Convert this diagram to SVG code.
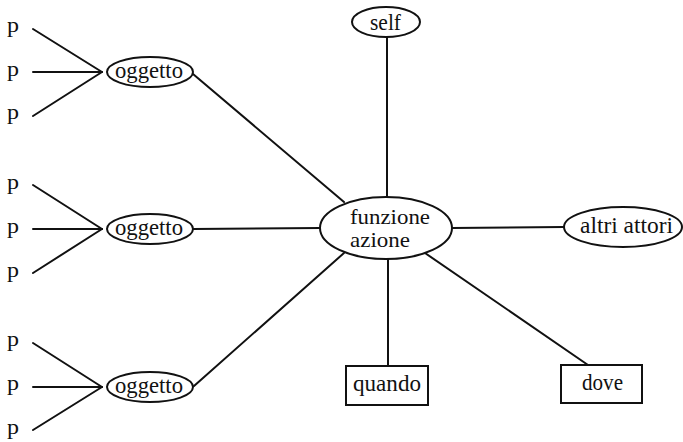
<svg xmlns="http://www.w3.org/2000/svg" width="683" height="442" viewBox="0 0 683 442" font-family="'Liberation Serif', 'DejaVu Serif', 'Times New Roman', serif">
<style>
text{font-family:'Liberation Serif','DejaVu Serif','Times New Roman',serif;fill:#111}
.lbl{font-size:23px}
.lbl2{font-size:21px}
.p{font-size:21px}
.shape{fill:#fff;stroke:#111;stroke-width:2}
.edges line{stroke:#111;stroke-width:2;stroke-linecap:round}
</style>
<rect width="683" height="442" fill="#fff"/>
<g class="edges" id="connectors">
<line x1="33" y1="29" x2="102" y2="72"/>
<line x1="33" y1="72" x2="102" y2="72"/>
<line x1="33" y1="116" x2="102" y2="72"/>
<line x1="33" y1="185" x2="102" y2="229"/>
<line x1="33" y1="229" x2="102" y2="229"/>
<line x1="33" y1="273" x2="102" y2="229"/>
<line x1="33" y1="343" x2="102" y2="387"/>
<line x1="33" y1="387" x2="102" y2="387"/>
<line x1="33" y1="430" x2="102" y2="387"/>
<line x1="193" y1="74" x2="344" y2="202"/>
<line x1="193" y1="229" x2="321" y2="228"/>
<line x1="194" y1="386" x2="344" y2="253"/>
<line x1="387" y1="37" x2="387" y2="197"/>
<line x1="452" y1="228" x2="564" y2="227"/>
<line x1="388" y1="259" x2="388" y2="366"/>
<line x1="425" y1="253" x2="588" y2="365"/>
</g>
<g id="p-labels" class="p" font-size="21">
<text x="7" y="32" textLength="12" lengthAdjust="spacingAndGlyphs">p</text>
<text x="7" y="76" textLength="12" lengthAdjust="spacingAndGlyphs">p</text>
<text x="7" y="119" textLength="12" lengthAdjust="spacingAndGlyphs">p</text>
<text x="7" y="189" textLength="12" lengthAdjust="spacingAndGlyphs">p</text>
<text x="7" y="233" textLength="12" lengthAdjust="spacingAndGlyphs">p</text>
<text x="7" y="277" textLength="12" lengthAdjust="spacingAndGlyphs">p</text>
<text x="7" y="346" textLength="12" lengthAdjust="spacingAndGlyphs">p</text>
<text x="7" y="390" textLength="12" lengthAdjust="spacingAndGlyphs">p</text>
<text x="7" y="434" textLength="12" lengthAdjust="spacingAndGlyphs">p</text>
</g>
<g id="oggetto1">
<ellipse class="shape" cx="150" cy="72" rx="43" ry="15"/>
<text class="lbl" x="115" y="78" textLength="68" lengthAdjust="spacingAndGlyphs">oggetto</text>
</g>
<g id="oggetto2">
<ellipse class="shape" cx="150" cy="229" rx="43" ry="15"/>
<text class="lbl" x="115" y="235" textLength="68" lengthAdjust="spacingAndGlyphs">oggetto</text>
</g>
<g id="oggetto3">
<ellipse class="shape" cx="150" cy="387" rx="43" ry="15"/>
<text class="lbl" x="115" y="393" textLength="68" lengthAdjust="spacingAndGlyphs">oggetto</text>
</g>
<g id="self">
<ellipse class="shape" cx="386" cy="22" rx="34" ry="15"/>
<text class="lbl" x="370" y="30" textLength="31" lengthAdjust="spacingAndGlyphs">self</text>
</g>
<g id="funzione">
<ellipse class="shape" cx="386" cy="228" rx="66" ry="31"/>
<text class="lbl2" x="350" y="224" textLength="80" lengthAdjust="spacingAndGlyphs">funzione</text>
<text class="lbl2" x="350" y="247" textLength="60" lengthAdjust="spacingAndGlyphs">azione</text>
</g>
<g id="altri-attori">
<ellipse class="shape" cx="623" cy="227" rx="59" ry="20"/>
<text class="lbl" x="580" y="233" textLength="93" lengthAdjust="spacingAndGlyphs">altri attori</text>
</g>
<g id="quando">
<rect class="shape" x="346" y="366" width="82" height="39"/>
<text class="lbl" x="353" y="391" textLength="68" lengthAdjust="spacingAndGlyphs">quando</text>
</g>
<g id="dove">
<rect class="shape" x="561" y="365" width="81" height="38"/>
<text class="lbl" x="582" y="390" textLength="41" lengthAdjust="spacingAndGlyphs">dove</text>
</g>
</svg>
